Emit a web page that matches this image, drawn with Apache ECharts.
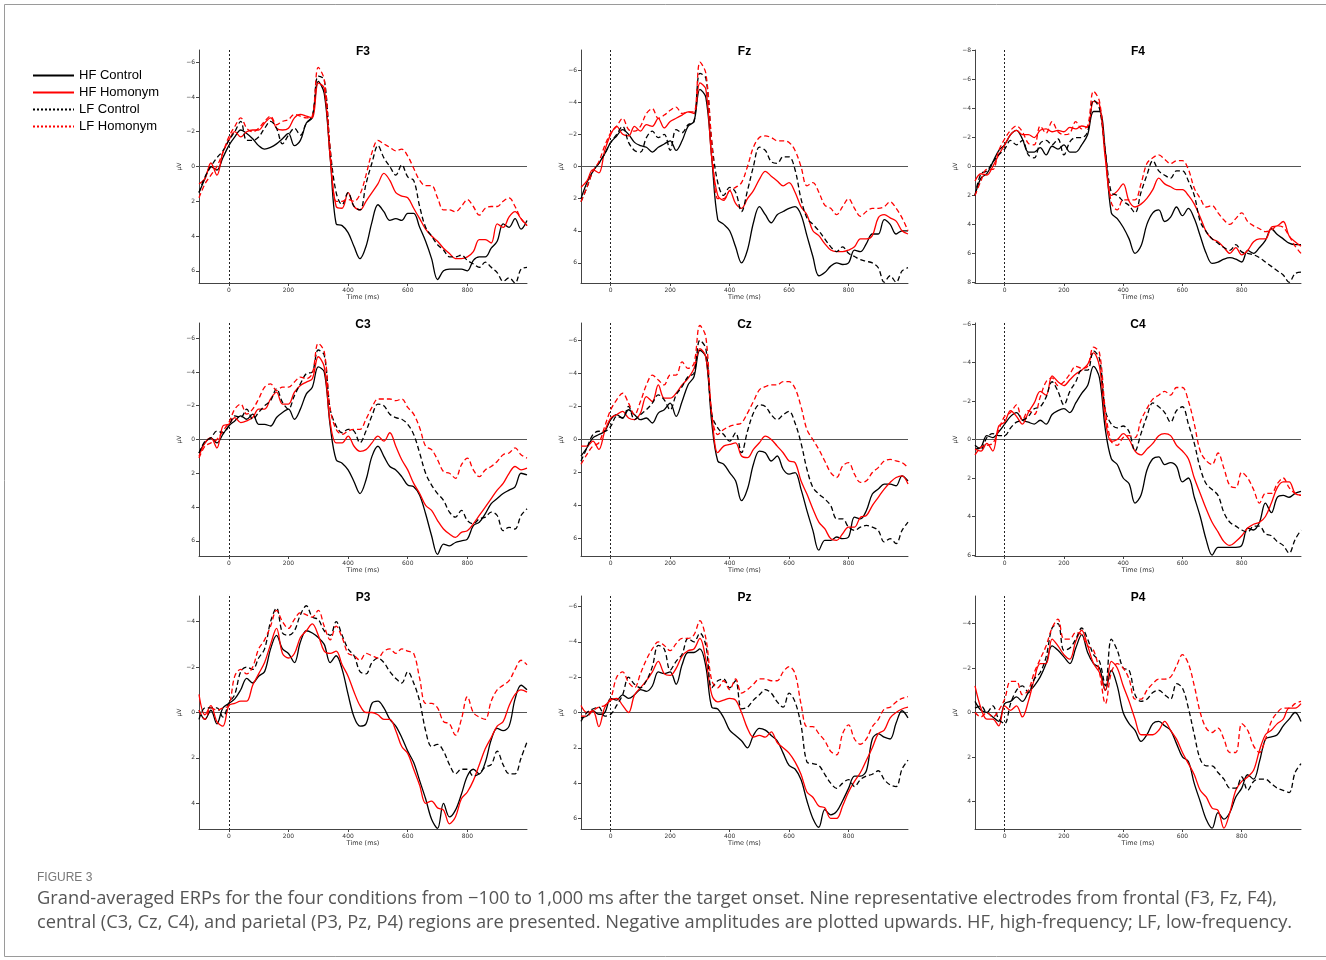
<!DOCTYPE html>
<html>
<head>
<meta charset="utf-8">
<title>Grand-averaged ERPs</title>
<script src="https://cdn.jsdelivr.net/npm/echarts@6/dist/echarts.min.js"></script>
<style>
  html, body { margin: 0; padding: 0; background: #fff; }
  #chart { width: 1326px; height: 960px; }
</style>
</head>
<body>
<div id="chart"></div>
<script>
// Sample times (ms), 20 ms grid from -100 to 1000
const times = [-100, -80, -60, -40, -20, 0, 20, 40, 60, 80, 100, 120, 140, 160, 180, 200,
  220, 240, 260, 280, 300, 320, 340, 360, 380, 400, 420, 440, 460, 480, 500, 520, 540, 560, 580, 600,
  620, 640, 660, 680, 700, 720, 740, 760, 780, 800, 820, 840, 860, 880, 900, 920, 940, 960, 980, 1000];

const electrodes = ['F3', 'Fz', 'F4', 'C3', 'Cz', 'C4', 'P3', 'Pz', 'P4'];
const conditions = ['HF Control', 'HF Homonym', 'LF Control', 'LF Homonym'];

// Amplitude range (± µV) of each electrode's axis
const yLimits = [6.7, 7.25, 8.05, 6.9, 7.05, 6.05, 5.13, 6.6, 5.24];
const yTicks = [
  [-6, -4, -2, 0, 2, 4, 6],
  [-6, -4, -2, 0, 2, 4, 6],
  [-8, -6, -4, -2, 0, 2, 4, 6, 8],
  [-6, -4, -2, 0, 2, 4, 6],
  [-6, -4, -2, 0, 2, 4, 6],
  [-6, -4, -2, 0, 2, 4, 6],
  [-4, -2, 0, 2, 4],
  [-6, -4, -2, 0, 2, 4, 6],
  [-4, -2, 0, 2, 4]
];
const xTicks = [0, 200, 400, 600, 800];

// ---- F3 ----
const f3HfControl = [1.5, 0.7, 0.0, 0.2, -0.5, -1.2, -1.7, -2.1, -1.9, -1.6, -1.2, -1.0, -1.1, -1.3, -1.6, -1.9, -1.2, -1.5, -2.5, -2.8, -4.9, -4.2, -0.5, 3.3, 3.4, 3.8, 4.6, 5.3, 4.6, 3.2, 2.2, 2.6, 3.1, 3.0, 3.1, 2.7, 2.7, 3.5, 4.3, 5.3, 6.5, 6.0, 5.9, 5.9, 5.9, 6.0, 5.4, 5.2, 5.2, 4.7, 4.3, 3.3, 3.5, 3.0, 3.6, 3.1];
const f3HfHomonym = [1.0, 0.7, -0.2, 0.5, -0.8, -1.5, -2.0, -1.7, -2.0, -2.1, -2.1, -2.5, -2.8, -2.2, -2.1, -2.2, -2.8, -3.0, -2.9, -2.8, -4.8, -4.5, -0.5, 2.3, 2.4, 1.5, 2.3, 2.5, 2.0, 1.5, 1.0, 0.4, 0.8, 1.5, 1.7, 1.8, 2.4, 3.0, 3.6, 4.0, 4.3, 4.7, 5.0, 5.3, 5.3, 5.2, 4.9, 4.2, 4.2, 4.4, 3.3, 3.5, 2.9, 2.6, 3.0, 3.4];
const f3LfControl = [1.5, 0.6, 0.0, -0.5, -0.9, -1.5, -2.0, -2.6, -1.5, -1.5, -1.7, -2.2, -2.6, -2.2, -1.3, -1.8, -2.2, -1.8, -2.5, -2.9, -5.2, -5.0, -1.0, 1.5, 2.2, 1.5, 2.3, 2.5, 1.0, -0.2, -1.2, -0.5, 0.0, 0.5, -0.1, 0.6, 0.8, 2.3, 3.5, 4.0, 4.5, 4.8, 5.2, 5.2, 5.1, 5.4, 5.6, 5.8, 5.5, 5.8, 6.1, 6.6, 6.4, 6.7, 5.9, 5.8];
const f3LfHomonym = [1.8, 1.0, 0.5, 0.0, -0.8, -1.7, -2.3, -2.8, -2.2, -2.0, -2.2, -2.6, -2.9, -2.4, -2.6, -2.7, -3.0, -2.9, -2.8, -2.9, -5.7, -5.0, -1.0, 2.0, 2.0, 1.9, 2.0, 1.6, 0.5, -0.8, -1.5, -1.3, -1.1, -0.9, -1.0, -0.6, 0.1, 0.8, 1.1, 1.1, 1.8, 2.5, 2.5, 2.6, 2.3, 1.9, 2.3, 2.8, 2.4, 2.3, 2.3, 2.0, 1.8, 2.3, 3.0, 3.4];

// ---- Fz ----
const fzHfControl = [2.0, 1.0, 0.3, -0.2, -0.8, -1.5, -1.9, -2.3, -2.0, -1.5, -1.3, -1.2, -0.9, -1.2, -1.4, -1.6, -1.0, -1.6, -2.5, -2.8, -4.8, -4.3, -0.5, 3.3, 3.6, 4.0, 5.0, 6.0, 5.2, 3.5, 2.5, 3.0, 3.5, 3.0, 2.8, 2.6, 2.5, 3.0, 4.3, 5.6, 6.8, 6.6, 6.2, 6.0, 6.1, 6.0, 5.2, 5.3, 4.8, 4.2, 4.2, 3.3, 3.6, 4.2, 4.0, 4.0];
const fzHfHomonym = [1.3, 0.9, 0.2, 0.4, -1.0, -2.0, -2.5, -2.0, -1.9, -2.5, -2.2, -2.6, -2.5, -3.0, -2.4, -2.8, -3.0, -3.2, -3.4, -3.3, -5.2, -4.8, -0.5, 1.8, 2.1, 1.5, 2.3, 2.6, 2.0, 1.5, 0.8, 0.3, 0.6, 0.9, 1.2, 1.0, 1.6, 2.5, 3.0, 4.0, 4.3, 4.8, 5.2, 5.3, 5.3, 5.2, 5.0, 4.5, 4.5, 4.3, 3.2, 3.0, 3.2, 3.4, 4.0, 4.2];
const fzLfControl = [2.2, 1.3, 0.3, -0.2, -0.8, -1.5, -2.0, -2.5, -1.5, -1.0, -0.9, -1.8, -2.2, -1.8, -2.0, -1.0, -2.3, -2.1, -2.6, -2.8, -5.8, -5.5, -1.5, 1.0, 1.8, 1.3, 1.6, 2.8, 1.5, 0.0, -1.2, -1.0, -0.3, -0.2, -0.6, -0.6, 0.2, 2.0, 3.2, 3.6, 4.0, 4.5, 5.0, 5.3, 5.0, 5.4, 5.6, 5.8, 5.9, 6.0, 6.3, 7.2, 6.8, 7.2, 6.5, 6.3];
const fzLfHomonym = [2.2, 1.3, 0.3, -0.3, -1.3, -2.1, -2.5, -3.0, -2.3, -2.2, -2.5, -3.3, -3.6, -3.0, -3.2, -3.5, -3.7, -3.3, -3.4, -3.4, -6.5, -5.8, -1.5, 2.0, 2.0, 1.5, 1.3, 1.0, 0.0, -1.2, -1.8, -1.9, -1.8, -1.6, -1.6, -1.5, -1.0, 0.0, 1.2, 1.0, 1.6, 2.4, 2.6, 3.0, 2.5, 2.0, 2.6, 3.1, 2.8, 2.6, 2.6, 2.5, 2.2, 2.6, 3.2, 4.0];

// ---- F4 ----
const f4HfControl = [2.0, 0.8, 0.5, -0.3, -1.1, -1.5, -2.2, -2.5, -1.9, -1.0, -1.0, -1.3, -0.8, -1.4, -1.2, -1.5, -1.0, -1.0, -1.5, -2.2, -3.8, -3.8, -1.0, 3.2, 3.6, 4.2, 5.0, 6.0, 5.5, 4.0, 3.2, 3.0, 3.8, 3.5, 2.8, 3.4, 2.9, 3.6, 4.8, 6.0, 6.7, 6.6, 6.4, 6.3, 6.4, 6.6, 5.8, 6.0, 5.6, 5.1, 4.3, 4.7, 5.0, 5.3, 5.4, 5.4];
const f4HfHomonym = [1.0, 0.5, 0.6, 0.0, -0.8, -1.5, -2.2, -2.5, -2.2, -2.2, -2.0, -2.5, -2.6, -2.4, -2.5, -2.4, -2.7, -2.6, -2.8, -2.7, -4.5, -4.3, -0.5, 2.0, 1.7, 1.2, 2.4, 2.8, 2.6, 2.2, 1.6, 0.8, 1.2, 1.4, 1.6, 1.6, 2.0, 2.6, 3.5, 4.5, 5.0, 5.2, 5.6, 6.0, 5.6, 6.1, 5.8, 5.2, 5.0, 5.0, 4.2, 4.1, 3.8, 4.8, 5.2, 5.5];
const f4LfControl = [2.0, 0.5, 0.3, -0.3, -0.8, -1.2, -1.8, -1.5, -1.8, -0.8, -0.6, -1.6, -1.8, -1.5, -1.9, -0.8, -1.7, -2.0, -2.0, -2.4, -4.6, -4.0, -1.0, 1.8, 2.0, 2.4, 2.7, 3.2, 1.8, 0.6, -0.4, 0.3, 0.6, 0.8, 0.3, 0.3, 1.0, 2.0, 3.8, 4.5, 5.0, 5.3, 5.6, 5.8, 5.4, 5.9, 6.0, 6.1, 6.3, 6.6, 6.9, 7.2, 7.5, 8.0, 7.4, 7.3];
const f4LfHomonym = [2.0, 1.0, 0.2, 0.2, -1.1, -1.9, -2.5, -2.8, -2.4, -1.6, -1.5, -2.8, -2.3, -3.1, -2.4, -2.2, -2.3, -3.1, -2.6, -2.8, -5.2, -4.5, -0.8, 2.5, 3.0, 2.3, 2.3, 2.3, 1.2, -0.2, -0.6, -0.8, -0.5, -0.2, -0.4, -0.4, 0.2, 1.5, 2.2, 2.8, 2.7, 3.2, 3.7, 4.0, 3.6, 3.2, 3.8, 4.1, 4.3, 4.5, 4.4, 4.1, 4.2, 4.8, 5.5, 6.0];

// ---- C3 ----
const c3HfControl = [0.8, 0.2, -0.1, 0.2, -0.3, -0.8, -1.1, -1.4, -1.2, -1.5, -0.9, -0.9, -0.8, -1.3, -1.6, -1.8, -1.2, -1.8, -2.7, -3.1, -4.3, -4.0, -0.8, 1.2, 1.4, 1.8, 2.5, 3.2, 2.4, 1.0, 0.4, 1.0, 1.6, 1.8, 2.2, 2.7, 2.8, 3.3, 4.4, 5.7, 6.8, 6.2, 6.3, 6.1, 6.0, 5.9, 5.1, 4.9, 4.4, 3.8, 3.5, 3.2, 3.0, 2.8, 2.0, 2.1];
const c3HfHomonym = [1.0, 0.2, -0.1, 0.5, -0.8, -0.9, -1.3, -1.0, -1.1, -1.3, -1.8, -1.8, -2.4, -2.8, -2.1, -2.1, -2.8, -3.2, -3.4, -3.6, -4.9, -4.3, -1.0, 0.2, 0.2, -0.2, 0.4, 0.7, 0.6, 0.2, -0.2, 0.1, -0.4, 0.4, 1.2, 1.8, 2.6, 3.2, 3.9, 4.2, 4.8, 5.3, 5.6, 5.8, 5.5, 5.4, 5.0, 4.5, 4.0, 3.5, 3.0, 2.6, 2.0, 1.6, 1.8, 1.7];
const c3LfControl = [0.8, 0.1, -0.1, -0.5, -0.4, -0.8, -1.4, -1.3, -1.8, -1.2, -1.6, -2.0, -2.3, -3.0, -2.2, -1.8, -2.6, -3.3, -3.9, -4.0, -5.3, -5.0, -1.8, -0.8, -0.4, -0.6, -0.5, 0.2, -0.5, -1.4, -2.1, -2.0, -1.5, -1.3, -1.2, -0.9, -0.3, 0.8, 2.0, 2.7, 3.2, 3.6, 4.3, 4.6, 4.2, 4.8, 5.0, 4.7, 4.6, 4.3, 4.5, 5.4, 5.2, 5.3, 4.5, 4.1];
const c3LfHomonym = [1.1, 0.4, 0.2, 0.0, -0.5, -1.0, -1.8, -2.1, -1.5, -1.8, -2.4, -3.1, -3.3, -2.9, -3.1, -3.1, -3.4, -3.7, -3.6, -3.9, -5.7, -5.2, -1.8, -0.6, -0.3, -0.5, -0.6, -0.6, -1.2, -1.9, -2.4, -2.4, -2.4, -2.3, -2.4, -1.9, -1.5, -0.7, 0.4, 0.6, 1.2, 1.9, 2.0, 2.3, 1.5, 1.1, 1.8, 2.2, 1.8, 1.6, 1.3, 0.9, 0.8, 0.5, 0.9, 1.1];

// ---- Cz ----
const czHfControl = [1.0, 0.5, -0.1, -0.3, -0.5, -1.2, -1.5, -1.3, -1.8, -1.5, -1.2, -1.3, -1.0, -1.6, -1.8, -2.2, -1.4, -2.3, -3.3, -3.8, -5.4, -5.0, -1.0, 1.3, 1.5, 2.0, 2.5, 3.7, 3.0, 1.5, 0.7, 0.8, 1.3, 1.0, 1.8, 2.1, 2.0, 3.0, 4.3, 5.5, 6.7, 6.1, 6.1, 5.9, 6.0, 5.9, 4.7, 4.8, 4.3, 3.3, 3.0, 2.7, 2.7, 2.8, 2.2, 2.5];
const czHfHomonym = [0.4, 0.4, 0.1, 0.6, -0.5, -1.3, -1.5, -1.7, -1.3, -1.2, -1.6, -2.6, -2.3, -3.3, -2.5, -2.5, -2.8, -3.3, -3.7, -4.3, -5.5, -5.0, -1.5, 0.8, 0.4, 0.3, 0.2, 1.0, 1.1, 0.6, 0.2, -0.2, 0.0, 0.4, 0.8, 1.3, 1.4, 2.5, 3.3, 4.2, 5.0, 5.4, 6.0, 6.1, 5.7, 5.3, 5.3, 4.7, 4.6, 4.0, 3.5, 3.0, 2.6, 2.3, 2.2, 2.7];
const czLfControl = [1.3, 0.5, -0.3, -0.5, -0.5, -0.8, -1.4, -1.3, -2.0, -1.2, -1.5, -1.8, -2.2, -2.7, -2.4, -1.8, -2.7, -3.2, -3.8, -4.0, -6.0, -5.5, -1.5, -0.7, -0.3, 0.1, -0.4, 0.8, -0.5, -1.6, -2.1, -2.0, -1.5, -1.2, -1.5, -1.7, -1.0, 0.2, 1.8, 2.9, 3.3, 3.6, 4.0, 4.8, 4.8, 5.3, 5.5, 5.3, 5.2, 5.3, 5.5, 6.2, 6.0, 6.3, 5.5, 5.0];
const czLfHomonym = [1.5, 0.9, 0.4, 0.2, -0.8, -1.8, -2.4, -2.8, -2.2, -1.5, -2.3, -3.3, -3.9, -3.6, -3.3, -3.9, -3.9, -4.7, -4.3, -4.6, -6.9, -6.2, -1.5, -0.3, -0.6, -0.8, -0.9, -1.0, -1.6, -2.3, -3.0, -3.2, -3.3, -3.3, -3.5, -3.5, -3.1, -2.0, -0.6, 0.0, 0.6, 1.3, 2.0, 2.3, 1.6, 1.4, 2.1, 2.6, 2.5, 2.0, 1.7, 1.3, 1.2, 1.3, 1.4, 1.7];

// ---- C4 ----
const c4HfControl = [0.5, 0.4, -0.2, -0.1, -0.4, -0.8, -1.2, -1.4, -1.0, -0.9, -0.8, -1.0, -0.8, -1.3, -1.5, -1.6, -1.4, -1.9, -2.4, -2.8, -3.8, -3.2, -0.5, 1.0, 1.3, 2.0, 2.3, 3.3, 2.9, 1.6, 1.0, 0.9, 1.3, 1.2, 1.4, 2.2, 2.0, 3.0, 4.0, 5.2, 6.0, 5.6, 5.6, 5.6, 5.6, 5.5, 4.6, 4.7, 4.3, 3.3, 3.8, 3.0, 2.9, 3.0, 2.8, 2.7];
const c4HfHomonym = [0.5, 0.6, 0.2, 0.6, -0.7, -0.9, -1.5, -1.2, -0.8, -1.4, -1.9, -2.5, -2.3, -3.3, -3.0, -2.8, -3.1, -3.4, -3.6, -3.9, -4.5, -3.8, -1.0, 0.1, 0.0, -0.3, 0.0, 0.6, 0.8, 0.5, 0.2, -0.2, -0.3, -0.2, 0.3, 0.6, 1.0, 2.0, 2.8, 3.6, 4.3, 4.8, 5.3, 5.5, 5.3, 5.0, 4.6, 4.4, 4.3, 4.0, 3.3, 2.5, 2.2, 2.2, 2.8, 2.9];
const c4LfControl = [0.3, 0.5, -0.1, -0.3, -0.2, -0.2, -0.6, -0.9, -1.0, -1.2, -1.6, -1.7, -2.2, -3.0, -2.5, -1.8, -2.5, -3.0, -3.6, -3.6, -4.6, -4.2, -1.5, -0.8, -0.6, -0.7, -0.4, 0.6, -0.3, -1.2, -1.9, -1.7, -1.4, -0.9, -1.5, -1.7, -0.8, 0.2, 1.5, 2.3, 2.6, 2.9, 3.8, 4.3, 4.5, 4.7, 4.8, 4.5, 4.5, 4.9, 5.0, 5.3, 5.5, 5.9, 5.2, 4.7];
const c4LfHomonym = [0.8, 0.4, 0.3, 0.2, -0.5, -1.2, -1.4, -1.8, -1.0, -1.5, -1.3, -2.2, -3.0, -3.2, -2.8, -3.0, -3.4, -3.8, -3.7, -3.8, -4.8, -4.5, -1.5, 0.1, 0.3, -0.1, -0.2, -0.1, -1.0, -1.6, -2.1, -2.3, -2.5, -2.3, -2.7, -2.7, -2.0, -0.8, 0.6, 1.1, 1.3, 0.7, 1.5, 2.4, 2.5, 1.7, 2.0, 2.6, 3.3, 2.8, 2.8, 2.3, 2.0, 2.5, 2.8, 2.9];

// ---- P3 ----
const p3HfControl = [-0.1, 0.3, -0.1, 0.5, -0.2, -0.4, -0.6, -1.0, -1.5, -1.3, -1.6, -1.8, -2.8, -3.4, -2.8, -2.6, -2.2, -3.1, -3.6, -3.5, -3.3, -3.0, -2.2, -2.5, -1.9, -0.8, 0.2, 0.6, 0.5, -0.4, -0.5, -0.2, 0.3, 0.6, 1.1, 1.7, 2.2, 3.0, 3.8, 4.7, 5.1, 4.0, 4.6, 4.3, 3.6, 2.8, 2.5, 2.7, 2.2, 1.2, 0.7, 0.8, 0.6, -0.6, -1.2, -1.0];
const p3HfHomonym = [-0.8, 0.1, -0.3, 0.4, 0.6, -0.3, -0.4, -0.5, -0.5, -1.2, -1.7, -2.2, -3.0, -3.7, -2.6, -2.4, -2.6, -3.3, -3.6, -3.9, -3.4, -2.7, -2.6, -2.7, -2.1, -1.6, -0.9, -0.3, 0.0, 0.0, 0.1, 0.3, 0.3, 0.8, 1.5, 1.8, 2.5, 3.2, 4.0, 3.9, 4.2, 4.3, 4.9, 4.6, 3.8, 3.5, 3.0, 2.3, 1.6, 1.1, 0.6, 0.4, -0.3, -0.8, -1.0, -0.9];
const p3LfControl = [0.3, -0.2, -0.2, -0.2, 0.2, -0.4, -0.8, -1.8, -2.0, -1.9, -2.4, -2.8, -4.0, -4.6, -3.5, -3.4, -3.6, -4.3, -4.7, -4.2, -4.1, -3.6, -3.4, -4.0, -3.4, -2.8, -2.5, -1.8, -1.7, -2.2, -2.4, -2.2, -1.8, -1.5, -1.3, -1.8, -1.3, -0.5, 0.8, 1.5, 1.4, 1.7, 2.3, 2.7, 2.5, 2.5, 2.8, 2.7, 2.4, 2.3, 1.7, 2.3, 2.7, 2.7, 2.0, 1.3];
const p3LfHomonym = [-0.1, 0.3, -0.2, -0.1, -0.2, -0.3, -1.6, -1.9, -1.7, -2.0, -2.8, -3.2, -3.8, -4.5, -4.0, -3.7, -4.1, -4.4, -4.3, -4.2, -4.5, -3.8, -3.2, -3.8, -3.3, -2.6, -2.5, -2.3, -2.6, -2.5, -2.4, -2.7, -2.8, -2.6, -2.8, -2.7, -2.6, -1.5, -0.4, -0.4, -0.2, 0.4, 0.5, 1.0, 0.3, -0.7, 0.0, 0.2, 0.3, -0.5, -1.0, -1.2, -1.4, -1.9, -2.3, -2.1];

// ---- Pz ----
const pzHfControl = [0.3, 0.2, -0.1, 0.1, 0.0, -0.8, -0.7, -1.0, -0.8, -1.0, -1.3, -1.2, -1.5, -2.3, -2.2, -2.3, -1.6, -2.7, -3.4, -3.4, -3.6, -2.6, -0.3, -0.2, 0.3, 1.0, 1.3, 1.6, 2.0, 1.3, 0.9, 1.0, 1.3, 1.6, 2.3, 3.0, 3.2, 3.8, 5.0, 6.0, 6.5, 5.5, 5.8, 5.6, 5.0, 4.3, 3.6, 3.6, 3.3, 1.5, 1.2, 1.4, 1.5, 0.6, -0.1, 0.3];
const pzHfHomonym = [-0.4, 0.0, -0.1, 0.8, -0.3, -0.7, -0.8, -0.4, 0.0, -1.0, -1.4, -1.8, -2.3, -2.9, -2.2, -2.1, -2.5, -3.2, -3.5, -3.6, -4.2, -3.0, -1.0, -0.6, -0.7, -0.8, -0.7, 0.0, 0.9, 1.4, 1.3, 1.4, 1.1, 1.7, 2.0, 2.3, 2.8, 3.5, 4.5, 4.8, 5.3, 5.4, 6.0, 6.0, 5.3, 4.5, 3.9, 3.4, 2.7, 2.0, 1.2, 1.0, 0.3, 0.0, -0.2, -0.3];
const pzLfControl = [0.5, 0.0, -0.2, -0.3, 0.2, 0.1, -0.4, -1.0, -2.0, -1.6, -1.4, -1.8, -2.6, -3.8, -3.6, -2.4, -2.9, -3.3, -4.2, -4.0, -4.5, -3.8, -1.4, -1.8, -1.9, -1.4, -1.8, -0.2, -0.3, -0.7, -1.0, -1.3, -1.1, -0.6, -0.3, -1.1, -0.6, 0.7, 2.8, 2.9, 3.0, 3.5, 4.0, 4.3, 4.0, 3.8, 4.2, 3.8, 3.6, 3.5, 3.3, 3.8, 4.1, 4.2, 3.2, 2.7];
const pzLfHomonym = [0.2, 0.2, -0.1, -0.3, -0.4, -0.8, -2.0, -2.3, -1.7, -1.4, -2.2, -3.0, -3.6, -4.0, -3.8, -3.5, -3.9, -4.2, -4.2, -4.4, -5.2, -4.2, -1.8, -1.4, -1.8, -1.3, -1.9, -1.1, -1.3, -1.6, -1.9, -1.9, -1.8, -1.8, -2.3, -2.6, -2.2, -0.5, 0.8, 0.8, 1.2, 1.6, 2.2, 2.4, 1.2, 0.7, 1.5, 1.8, 1.5, 0.8, 0.4, -0.2, -0.3, -0.6, -0.8, -0.9];

// ---- P4 ----
const p4HfControl = [-0.5, -0.1, 0.0, 0.2, 0.4, -0.4, -0.5, -0.7, -0.5, -0.9, -1.2, -1.6, -2.2, -3.0, -2.8, -2.5, -2.2, -2.9, -3.5, -2.7, -2.2, -2.0, -1.0, -1.9, -1.2, 0.0, 0.5, 0.8, 1.3, 1.0, 0.5, 0.4, 0.6, 0.8, 1.4, 2.0, 2.2, 3.2, 4.0, 4.8, 5.2, 4.5, 4.8, 4.5, 3.8, 3.4, 2.8, 3.0, 2.2, 1.2, 1.1, 1.0, 0.6, 0.3, 0.0, 0.4];
const p4HfHomonym = [-1.2, -0.2, 0.3, 0.3, 0.6, -0.3, -0.1, -0.3, 0.2, -0.5, -1.5, -2.2, -2.2, -3.3, -3.0, -2.6, -2.4, -3.2, -3.7, -3.0, -2.2, -1.8, -1.0, -2.3, -2.0, -1.2, -0.5, 0.3, 1.0, 1.0, 1.0, 0.8, 0.4, 0.8, 1.2, 1.8, 2.3, 2.8, 3.5, 3.8, 4.3, 4.4, 5.2, 4.5, 3.5, 3.1, 2.9, 2.6, 1.7, 1.0, 0.8, 0.5, 0.3, -0.2, -0.2, -0.4];
const p4LfControl = [-0.2, -0.3, 0.0, -0.3, 0.3, 0.5, -0.4, -1.0, -1.2, -0.9, -1.5, -1.8, -2.5, -3.8, -4.0, -2.8, -2.9, -3.3, -3.8, -3.3, -2.6, -2.3, -1.2, -3.3, -2.8, -2.0, -1.9, -0.8, -0.5, -0.6, -0.9, -1.0, -0.8, -0.6, -1.3, -1.1, -0.2, 1.0, 2.1, 2.4, 2.4, 2.7, 3.0, 3.4, 3.4, 2.9, 3.5, 3.1, 3.0, 3.0, 3.2, 3.4, 3.5, 3.6, 2.7, 2.3];
const p4LfHomonym = [0.0, 0.2, 0.0, 0.2, -0.1, -0.6, -1.4, -1.4, -0.8, -1.0, -1.8, -2.4, -3.0, -3.8, -4.2, -3.3, -3.3, -3.6, -3.5, -3.0, -2.8, -1.8, -0.4, -1.8, -2.2, -2.0, -1.5, -0.6, -0.6, -1.0, -1.3, -1.5, -1.5, -1.6, -2.1, -2.6, -2.2, -1.2, 0.0, 0.7, 0.9, 0.7, 1.2, 1.8, 1.8, 0.5, 0.8, 1.5, 1.8, 1.2, 0.4, 0.0, -0.2, -0.2, -0.4, -0.5];

const panelSeries = [
  [f3HfControl, f3HfHomonym, f3LfControl, f3LfHomonym],
  [fzHfControl, fzHfHomonym, fzLfControl, fzLfHomonym],
  [f4HfControl, f4HfHomonym, f4LfControl, f4LfHomonym],
  [c3HfControl, c3HfHomonym, c3LfControl, c3LfHomonym],
  [czHfControl, czHfHomonym, czLfControl, czLfHomonym],
  [c4HfControl, c4HfHomonym, c4LfControl, c4LfHomonym],
  [p3HfControl, p3HfHomonym, p3LfControl, p3LfHomonym],
  [pzHfControl, pzHfHomonym, pzLfControl, pzLfHomonym],
  [p4HfControl, p4HfHomonym, p4LfControl, p4LfHomonym]
];

// ---- layout ----
const colBoxes = [{ left: 199, width: 328 }, { left: 581, width: 327 }, { left: 975, width: 326 }];
const rowTops = [50, 323, 596];
const plotHeight = 233;

const condColor = ['#000000', '#ff0000', '#000000', '#ff0000'];
const condDash = ['solid', 'solid', [5, 3], [5, 3]];

const tickFont = 'DejaVu Sans';
const minusFmt = v => (v < 0 ? '\u2212' + Math.abs(v) : String(v));

const grids = [], xAxes = [], yAxes = [], panelTitles = [], series = [];

electrodes.forEach((name, i) => {
  const col = colBoxes[i % 3];
  const top = rowTops[Math.floor(i / 3)];
  grids.push({ left: col.left, top: top, width: col.width, height: plotHeight, containLabel: false });

  // electrode name centred above each panel
  panelTitles.push({
    type: 'text',
    x: col.left + col.width / 2,
    y: top + 2,
    silent: true,
    style: {
      text: name,
      align: 'center',
      verticalAlign: 'middle',
      font: 'bold 12px "Liberation Sans"',
      fill: '#000'
    }
  });

  xAxes.push({
    gridIndex: i, type: 'value', min: -100, max: 1000,
    name: 'Time (ms)', nameLocation: 'middle', nameGap: 11,
    nameTextStyle: { fontFamily: tickFont, fontSize: 6.5, color: '#333' },
    axisLine: { show: true, onZero: false, lineStyle: { color: '#444', width: 1 } },
    axisTick: { show: true, length: 3, customValues: xTicks, lineStyle: { color: '#444' } },
    axisLabel: { customValues: xTicks, fontFamily: tickFont, fontSize: 6, color: '#333', margin: 4 },
    splitLine: { show: false }
  });

  yAxes.push({
    gridIndex: i, type: 'value', inverse: true,
    min: -yLimits[i], max: yLimits[i],
    name: '\u00b5V', nameLocation: 'middle', nameGap: 17, nameRotate: 90,
    nameTextStyle: { fontFamily: tickFont, fontSize: 6, color: '#333' },
    axisLine: { show: true, onZero: false, lineStyle: { color: '#444', width: 1 } },
    axisTick: { show: true, length: 3, customValues: yTicks[i], lineStyle: { color: '#444' } },
    axisLabel: { customValues: yTicks[i], formatter: minusFmt, fontFamily: tickFont, fontSize: 6, color: '#333', margin: 4 },
    splitLine: { show: false }
  });

  panelSeries[i].forEach((vals, k) => {
    const s = {
      type: 'line',
      name: conditions[k],
      xAxisIndex: i,
      yAxisIndex: i,
      data: times.map((t, j) => [t, vals[j]]),
      symbol: 'none',
      smooth: 0.35,
      clip: true,
      z: 3 + k,
      itemStyle: { color: condColor[k] },
      lineStyle: { color: condColor[k], width: 1.3, type: condDash[k] }
    };
    if (k === 0) {
      // zero-amplitude baseline and stimulus onset marker
      s.markLine = {
        silent: true,
        symbol: 'none',
        label: { show: false },
        animation: false,
        z: 1,
        data: [
          { yAxis: 0, lineStyle: { color: '#555', width: 1, type: 'solid' } },
          { xAxis: 0, lineStyle: { color: '#222', width: 1, type: [2, 2] } }
        ]
      };
    }
    series.push(s);
  });
});

const chart = echarts.init(document.getElementById('chart'), null, { renderer: 'canvas' });

chart.setOption({
  backgroundColor: '#ffffff',
  animation: false,
  grid: grids,
  xAxis: xAxes,
  yAxis: yAxes,
  legend: {
    orient: 'vertical',
    left: 32,
    top: 69,
    padding: 0,
    itemWidth: 41,
    itemHeight: 10,
    itemGap: 4,
    itemStyle: { opacity: 0 },
    lineStyle: { width: 2 },
    textStyle: { fontFamily: 'Liberation Sans', fontSize: 13, color: '#000' },
    data: [
      { name: 'HF Control', lineStyle: { color: '#000', type: 'solid', width: 2 } },
      { name: 'HF Homonym', lineStyle: { color: '#ff0000', type: 'solid', width: 2 } },
      { name: 'LF Control', lineStyle: { color: '#000', type: [2, 2], width: 2 } },
      { name: 'LF Homonym', lineStyle: { color: '#ff0000', type: [2, 2], width: 2 } }
    ]
  },
  graphic: [
    {
      type: 'rect', silent: true, z: -1,
      shape: { x: 4.5, y: 4.5, width: 1330, height: 952 },
      style: { fill: 'none', stroke: '#9a9a9a', lineWidth: 1 }
    },
    {
      type: 'text', left: 37, top: 872,
      style: { text: 'FIGURE 3', font: '12px "Liberation Sans"', fill: '#777' }
    },
    {
      type: 'text', left: 37, top: 890,
      style: {
        text: 'Grand-averaged ERPs for the four conditions from \u2212100 to 1,000 ms after the target onset. Nine representative electrodes from frontal (F3, Fz, F4),',
        font: '18.3px "Open Sans"', fill: '#555'
      }
    },
    {
      type: 'text', left: 37, top: 914,
      style: {
        text: 'central (C3, Cz, C4), and parietal (P3, Pz, P4) regions are presented. Negative amplitudes are plotted upwards. HF, high-frequency; LF, low-frequency.',
        font: '18.3px "Open Sans"', fill: '#555'
      }
    }
  ].concat(panelTitles),
  series: series
});
</script>
</body>
</html>
